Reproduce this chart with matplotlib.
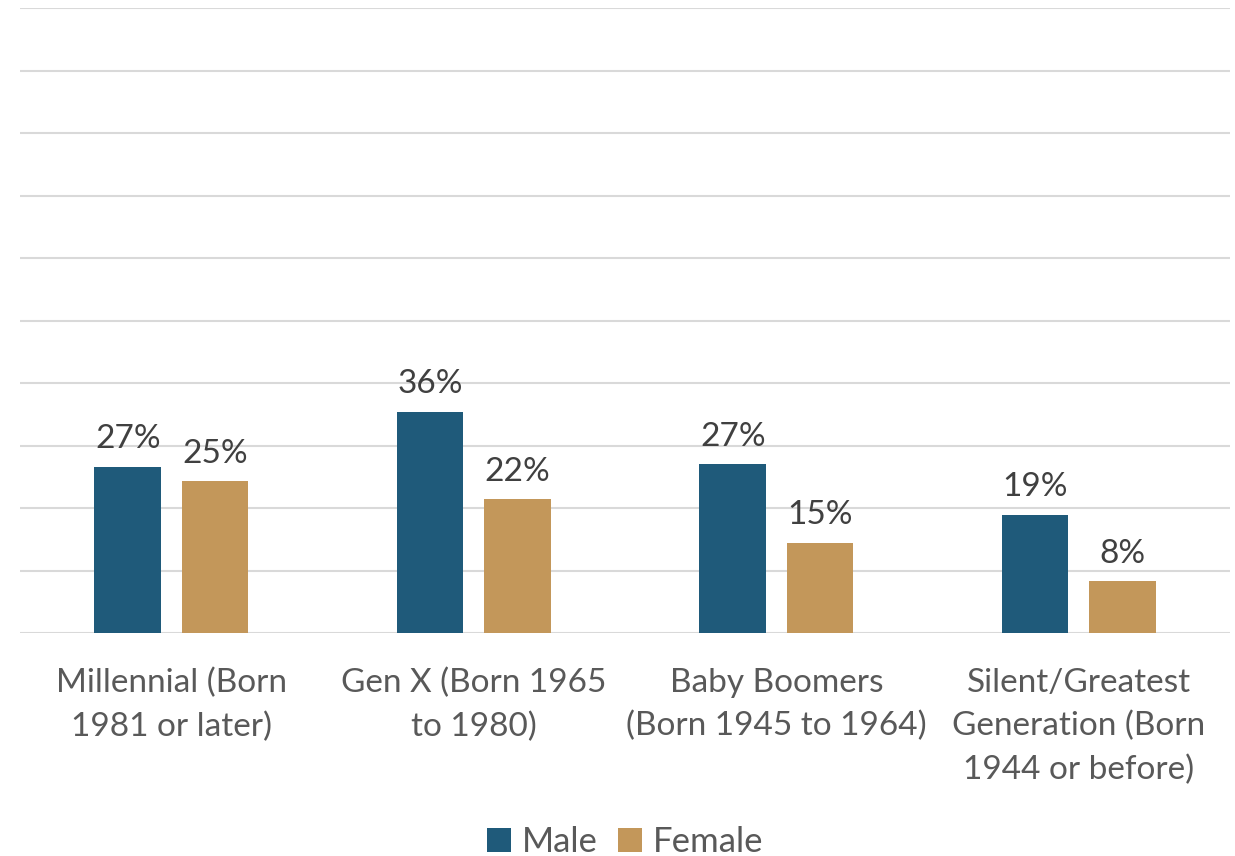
import matplotlib.pyplot as plt
import numpy as np

categories = ["Millennial (Born\n1981 or later)", "Gen X (Born 1965\nto 1980)",
              "Baby Boomers\n(Born 1945 to 1964)", "Silent/Greatest\nGeneration (Born\n1944 or before)"]
male = [26.6, 35.4, 27.0, 18.9]
female = [24.3, 21.4, 14.4, 8.3]
male_labels = ["27%", "36%", "27%", "19%"]
female_labels = ["25%", "22%", "15%", "8%"]

plt.rcParams["font.family"] = ["Lato", "DejaVu Sans"]

fig = plt.figure(figsize=(12.35, 8.56), dpi=100)
ax = fig.add_axes([20 / 1235, 1 - 633 / 856, 1210 / 1235, 625 / 856])

x = np.arange(len(categories))
w = 0.22
off = 0.144
b1 = ax.bar(x - off, male, w, color="#1F5A7A", label="Male", zorder=3)
b2 = ax.bar(x + off, female, w, color="#C3975A", label="Female", zorder=3)

for bars, labs in ((b1, male_labels), (b2, female_labels)):
    for bar, lab in zip(bars, labs):
        ax.annotate(lab, xy=(bar.get_x() + bar.get_width() / 2, bar.get_height()),
                    xytext=(0, 9), textcoords="offset points", ha="center", va="bottom",
                    fontsize=24, color="#404040")

ax.set_xlim(-0.5, 3.5)
ax.set_ylim(0, 100)
ax.set_yticks(np.arange(0, 101, 10))
ax.yaxis.grid(True, color="#D9D9D9", linewidth=1.5, zorder=0)
ax.set_yticklabels([])
ax.tick_params(axis="y", length=0)
ax.tick_params(axis="x", length=0, pad=25)
ax.set_xticks(x)
ax.set_xticklabels(categories, fontsize=24, color="#595959", linespacing=1.55)
for s in ax.spines.values():
    s.set_visible(False)

ax.legend(loc="lower center", bbox_to_anchor=(0.5, -0.41), ncol=2, frameon=False,
          fontsize=25, labelcolor="#595959", handlelength=0.7, handleheight=0.7,
          handletextpad=0.3, columnspacing=0.6)

fig.savefig("out.png", dpi=100)
